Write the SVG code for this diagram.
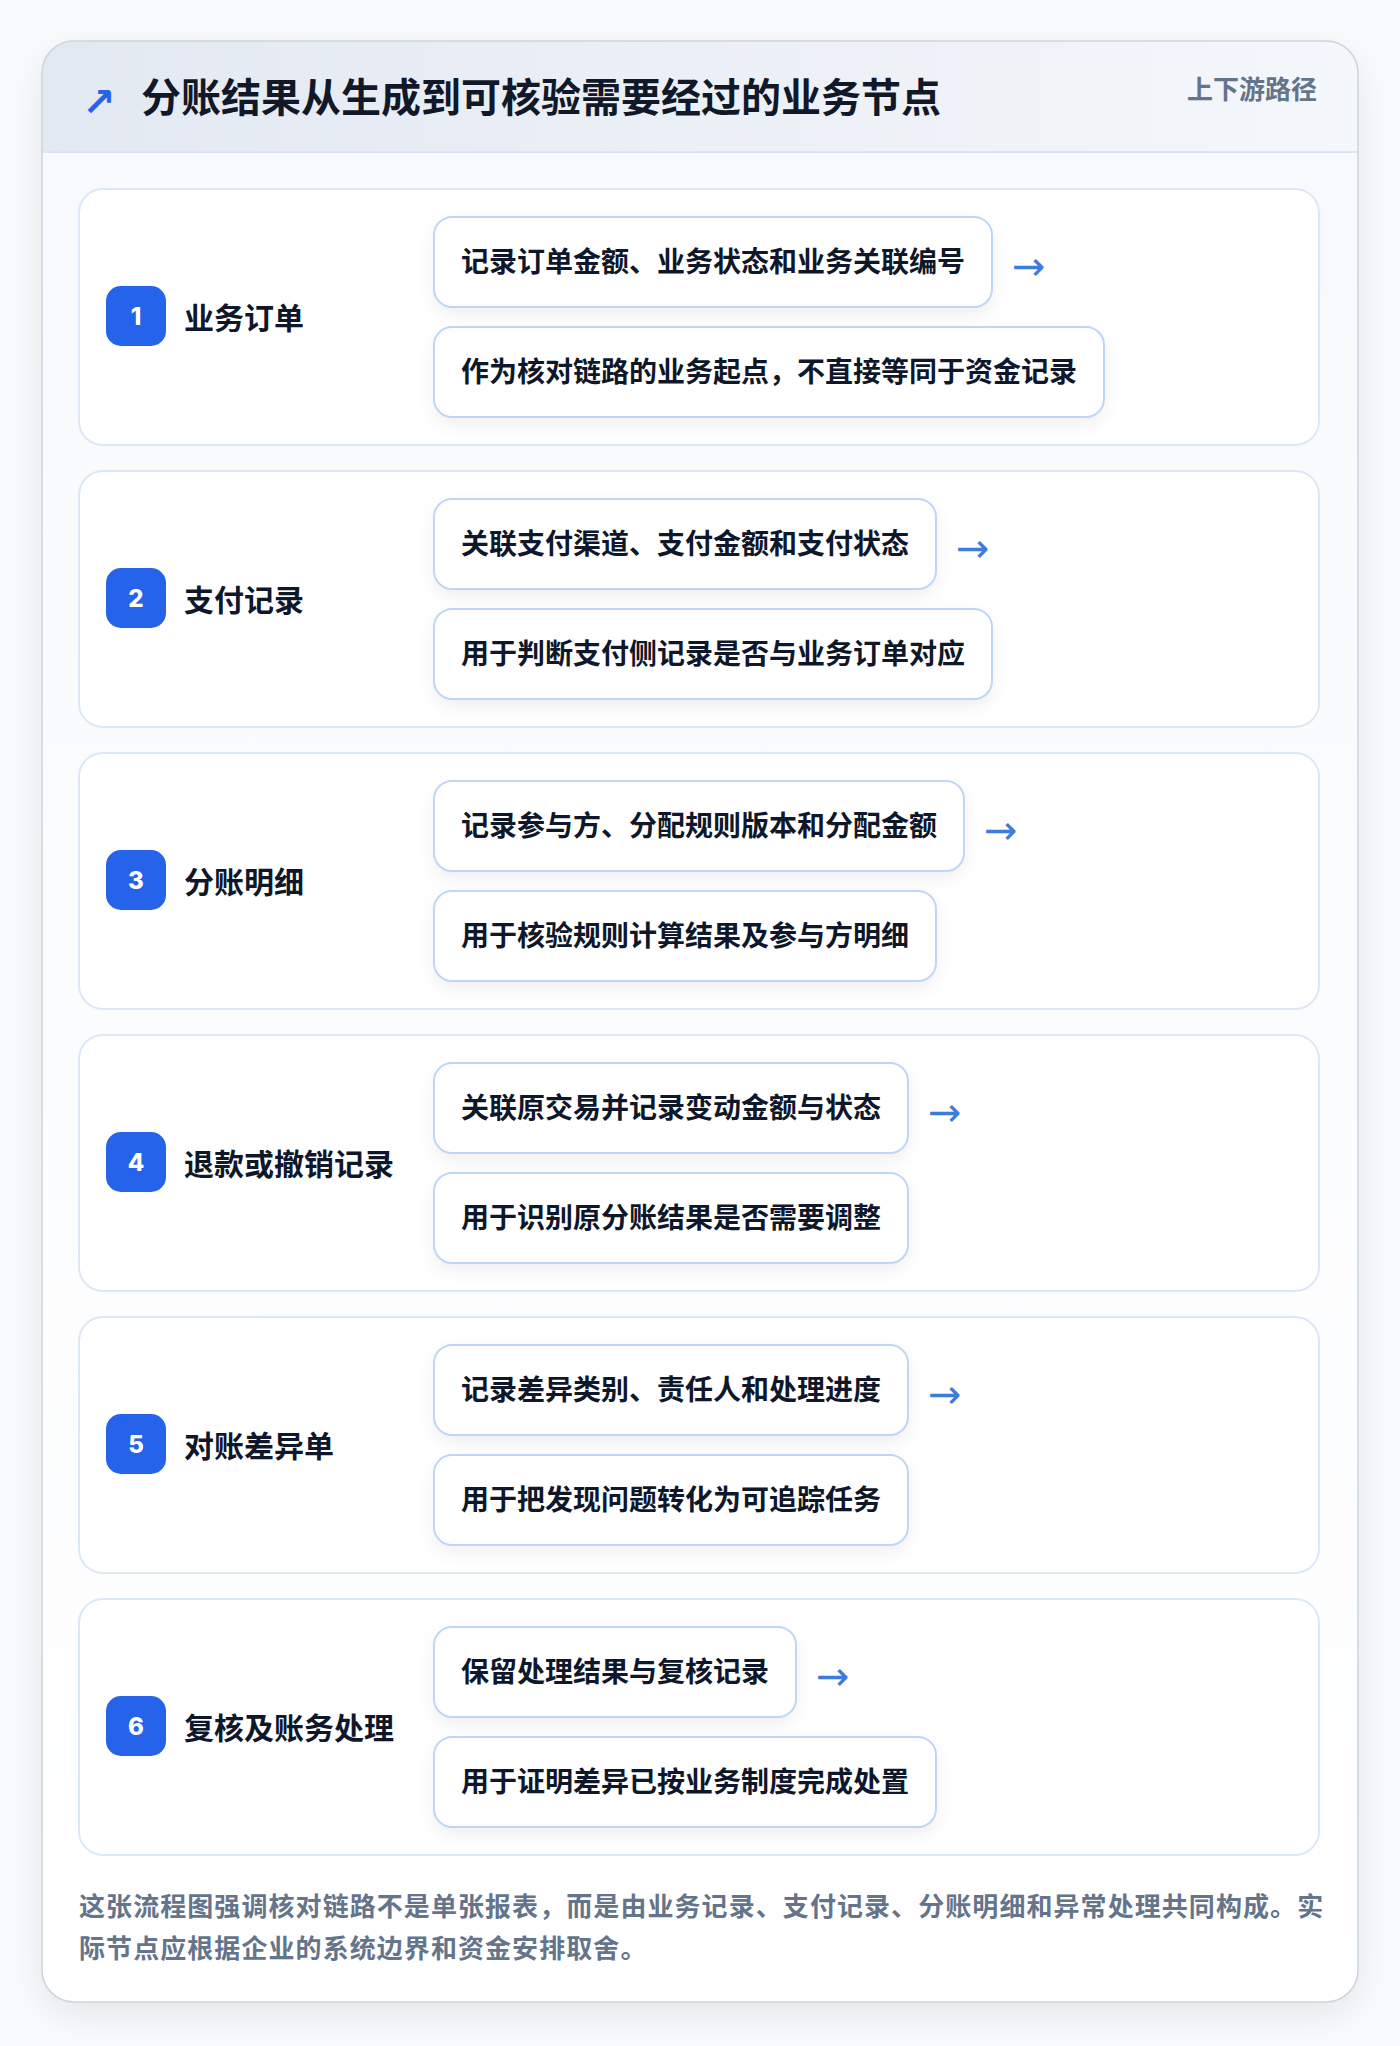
<svg xmlns="http://www.w3.org/2000/svg" width="1400" height="2046" viewBox="0 0 1400 2046">
<defs>
<linearGradient id="hdr" x1="0" y1="0" x2="1" y2="0"><stop offset="0" stop-color="#e3e9f2"/><stop offset="1" stop-color="#f4f7fb"/></linearGradient>
<linearGradient id="body" x1="0" y1="0" x2="0" y2="1"><stop offset="0" stop-color="#f7f9fc"/><stop offset="1" stop-color="#ffffff"/></linearGradient>
<filter id="cardShadow" x="-10%" y="-10%" width="120%" height="120%"><feDropShadow dx="0" dy="12" stdDeviation="18" flood-color="#0f172a" flood-opacity="0.08"/></filter>
<filter id="boxShadow" x="-10%" y="-20%" width="120%" height="160%"><feDropShadow dx="0" dy="7" stdDeviation="8" flood-color="#0f172a" flood-opacity="0.06"/></filter>
<clipPath id="cardClip"><rect x="42" y="41" width="1316" height="1961" rx="32"/></clipPath>
<style>
.cjk{font-family:"Noto Sans CJK SC","Noto Sans",sans-serif;font-weight:700}
.title{font-size:40px;fill:#111827}
.tag{font-size:26px;fill:#64748b}
.panel{fill:#ffffff;stroke:#dce8f8;stroke-width:2}
.badge{fill:#2563eb}
.num{font-family:"Inter","Noto Sans",sans-serif;font-weight:800;font-size:24px;fill:#ffffff;text-anchor:middle}
.label{font-size:30px;fill:#0f172a}
.box{fill:#ffffff;stroke:#bfd6f6;stroke-width:2;filter:url(#boxShadow)}
.btxt{font-size:28px;fill:#0f172a}
.arr{font-family:"DejaVu Sans",sans-serif;font-size:40px;fill:#3b7ddd}
.foot{font-size:26px;fill:#64748b;letter-spacing:1.07px}
</style>
</defs>
<rect x="0" y="0" width="1400" height="2046" fill="#f9fafb"/>
<g id="card">
<rect x="42" y="41" width="1316" height="1961" rx="32" fill="url(#body)" filter="url(#cardShadow)"/>
<g clip-path="url(#cardClip)">
<rect x="42" y="41" width="1316" height="111" fill="url(#hdr)"/>
<line x1="42" y1="152" x2="1358" y2="152" stroke="#dbe6f5" stroke-width="2"/>
</g>
<rect x="42" y="41" width="1316" height="1961" rx="32" fill="none" stroke="#cbd5e1" stroke-width="1.5"/>
</g>
<g id="header">
<text x="82" y="116" font-family="DejaVu Sans,sans-serif" font-size="40" font-weight="700" fill="#2563eb">↗</text>
<text class="cjk title" x="141" y="112">分账结果从生成到可核验需要经过的业务节点</text>
<text class="cjk tag" x="1317" y="99" text-anchor="end">上下游路径</text>
</g>
<g id="node1">
<rect class="panel" x="79" y="189" width="1240" height="256" rx="24"/>
<rect class="badge" x="106" y="286" width="60" height="60" rx="15"/>
<text class="num" x="136" y="325">1</text>
<text class="cjk label" x="184" y="329">业务订单</text>
<rect class="box" x="434" y="217" width="558" height="90" rx="18"/>
<text class="cjk btxt" x="461" y="272">记录订单金额、业务状态和业务关联编号</text>
<rect class="box" x="434" y="327" width="670" height="90" rx="18"/>
<text class="cjk btxt" x="461" y="382">作为核对链路的业务起点，不直接等同于资金记录</text>
</g>
<g id="node2">
<rect class="panel" x="79" y="471" width="1240" height="256" rx="24"/>
<rect class="badge" x="106" y="568" width="60" height="60" rx="15"/>
<text class="num" x="136" y="607">2</text>
<text class="cjk label" x="184" y="611">支付记录</text>
<rect class="box" x="434" y="499" width="502" height="90" rx="18"/>
<text class="cjk btxt" x="461" y="554">关联支付渠道、支付金额和支付状态</text>
<rect class="box" x="434" y="609" width="558" height="90" rx="18"/>
<text class="cjk btxt" x="461" y="664">用于判断支付侧记录是否与业务订单对应</text>
</g>
<g id="node3">
<rect class="panel" x="79" y="753" width="1240" height="256" rx="24"/>
<rect class="badge" x="106" y="850" width="60" height="60" rx="15"/>
<text class="num" x="136" y="889">3</text>
<text class="cjk label" x="184" y="893">分账明细</text>
<rect class="box" x="434" y="781" width="530" height="90" rx="18"/>
<text class="cjk btxt" x="461" y="836">记录参与方、分配规则版本和分配金额</text>
<rect class="box" x="434" y="891" width="502" height="90" rx="18"/>
<text class="cjk btxt" x="461" y="946">用于核验规则计算结果及参与方明细</text>
</g>
<g id="node4">
<rect class="panel" x="79" y="1035" width="1240" height="256" rx="24"/>
<rect class="badge" x="106" y="1132" width="60" height="60" rx="15"/>
<text class="num" x="136" y="1171">4</text>
<text class="cjk label" x="184" y="1175">退款或撤销记录</text>
<rect class="box" x="434" y="1063" width="474" height="90" rx="18"/>
<text class="cjk btxt" x="461" y="1118">关联原交易并记录变动金额与状态</text>
<rect class="box" x="434" y="1173" width="474" height="90" rx="18"/>
<text class="cjk btxt" x="461" y="1228">用于识别原分账结果是否需要调整</text>
</g>
<g id="node5">
<rect class="panel" x="79" y="1317" width="1240" height="256" rx="24"/>
<rect class="badge" x="106" y="1414" width="60" height="60" rx="15"/>
<text class="num" x="136" y="1453">5</text>
<text class="cjk label" x="184" y="1457">对账差异单</text>
<rect class="box" x="434" y="1345" width="474" height="90" rx="18"/>
<text class="cjk btxt" x="461" y="1400">记录差异类别、责任人和处理进度</text>
<rect class="box" x="434" y="1455" width="474" height="90" rx="18"/>
<text class="cjk btxt" x="461" y="1510">用于把发现问题转化为可追踪任务</text>
</g>
<g id="node6">
<rect class="panel" x="79" y="1599" width="1240" height="256" rx="24"/>
<rect class="badge" x="106" y="1696" width="60" height="60" rx="15"/>
<text class="num" x="136" y="1735">6</text>
<text class="cjk label" x="184" y="1739">复核及账务处理</text>
<rect class="box" x="434" y="1627" width="362" height="90" rx="18"/>
<text class="cjk btxt" x="461" y="1682">保留处理结果与复核记录</text>
<rect class="box" x="434" y="1737" width="502" height="90" rx="18"/>
<text class="cjk btxt" x="461" y="1792">用于证明差异已按业务制度完成处置</text>
</g>
<g id="connectors">
<text class="arr" x="1012" y="280">→</text>
<text class="arr" x="956" y="562">→</text>
<text class="arr" x="984" y="844">→</text>
<text class="arr" x="928" y="1126">→</text>
<text class="arr" x="928" y="1408">→</text>
<text class="arr" x="816" y="1690">→</text>
</g>
<g id="footer">
<text class="cjk foot" x="79" y="1916">这张流程图强调核对链路不是单张报表，而是由业务记录、支付记录、分账明细和异常处理共同构成。实</text>
<text class="cjk foot" x="79" y="1958">际节点应根据企业的系统边界和资金安排取舍。</text>
</g>
</svg>
